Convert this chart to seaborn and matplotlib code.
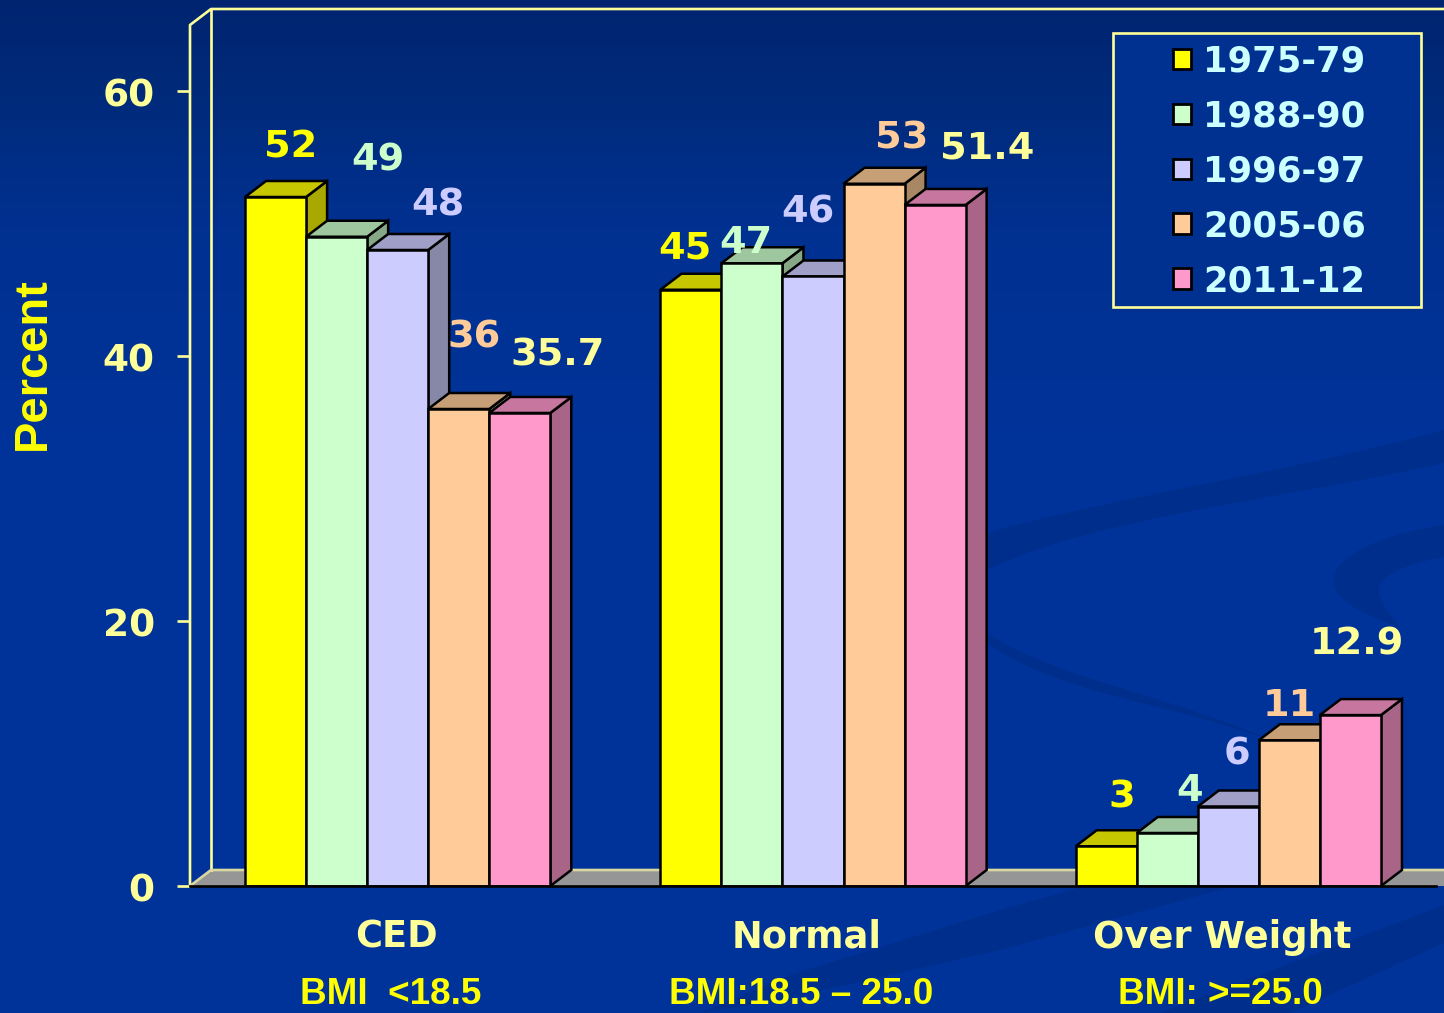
import numpy as np
import pandas as pd
import matplotlib
matplotlib.use("Agg")
import matplotlib.pyplot as plt
import matplotlib.colors as mcolors
from matplotlib.lines import Line2D
from matplotlib.patches import Polygon, Rectangle, PathPatch
from matplotlib.path import Path
from matplotlib.transforms import ScaledTranslation
import seaborn as sns

# Nutritional status of women by survey round
groups = ["CED", "Normal", "Over Weight"]
subtitles = ["BMI  <18.5", "BMI:18.5 – 25.0", "BMI: >=25.0"]
periods = ["1975-79", "1988-90", "1996-97", "2005-06", "2011-12"]
ced_values = [52, 49, 48, 36, 35.7]
normal_values = [45, 47, 46, 53, 51.4]
overweight_values = [3, 4, 6, 11, 12.9]
value_labels = [["52", "49", "48", "36", "35.7"],
                ["45", "47", "46", "53", "51.4"],
                ["3", "4", "6", "11", "12.9"]]
bar_colors = ["#FFFF00", "#CCFFCC", "#CCCCFF", "#FFCC99", "#FF99CC"]
label_colors = ["#FFFF00", "#CCFFCC", "#CCCCFF", "#FFCC99", "#FFFF99"]

W, H = 1444, 1013
PALE = "#FFFF99"
DEPTH_X, DEPTH_Y = 21, 16          # extrusion of the bars, in pixels
LEFT, RIGHT, BOTTOM, TOP = 190, 1436, 886, 25
YMAX = (BOTTOM - TOP) / 13.25      # 13.25 pixels per percentage point

df = pd.DataFrame({
    "group": np.repeat(groups, len(periods)),
    "period": periods * len(groups),
    "percent": ced_values + normal_values + overweight_values,
})

sns.set_theme(style="white")
fig = plt.figure(figsize=(W / 100, H / 100), dpi=100)

# Slide background: vertical blue gradient with faint darker swooshes
bg = fig.add_axes([0, 0, 1, 1], zorder=0)
bg.set_axis_off()
cmap = mcolors.LinearSegmentedColormap.from_list(
    "slide", [(0, "#002470"), (0.08, "#002A78"), (0.22, "#003090"), (0.42, "#003399"), (1, "#003399")])
bg.imshow(np.linspace(0, 1, 256)[:, None], aspect="auto", cmap=cmap, extent=(0, W, H, 0))
bg.set_xlim(0, W)
bg.set_ylim(H, 0)
swoosh_color = "#002E8C"
C4, L2, M = Path.CURVE4, Path.LINETO, Path.MOVETO
swooshes = [
    # long band sweeping up to the right edge
    ([(987, 533), (1100, 500), (1300, 470), (1444, 430), (1444, 463),
      (1300, 497), (1100, 515), (987, 570), (987, 533)],
     [M, C4, C4, C4, L2, C4, C4, C4, Path.CLOSEPOLY]),
    # hook entering from the right edge
    ([(1444, 525), (1340, 540), (1280, 590), (1400, 627), (1380, 600),
      (1350, 575), (1444, 557), (1444, 525)],
     [M, C4, C4, C4, C4, C4, C4, Path.CLOSEPOLY]),
    # thin tapering stroke
    ([(987, 633), (1060, 680), (1170, 695), (1270, 740), (1170, 703),
      (1060, 695), (987, 643), (987, 633)],
     [M, C4, C4, C4, C4, C4, C4, Path.CLOSEPOLY]),
    # two diagonal wedges below the baseline
    ([(1085, 886), (1235, 886), (1000, 950), (780, 1000), (700, 1013), (790, 975), (1000, 910), (1085, 886)],
     [M, L2, L2, L2, L2, L2, L2, Path.CLOSEPOLY]),
    ([(1444, 905), (1160, 1013), (1290, 1013), (1444, 943), (1444, 905)],
     [M, L2, L2, L2, Path.CLOSEPOLY]),
]
for pts, codes in swooshes:
    bg.add_patch(PathPatch(Path(pts, codes), fc=swoosh_color, ec="none"))

ax = fig.add_axes([LEFT / W, 1 - BOTTOM / H, (RIGHT - LEFT) / W, (BOTTOM - TOP) / H], zorder=1)
ax.patch.set_alpha(0)

sns.barplot(data=df, x="group", y="percent", hue="period", hue_order=periods,
            palette=bar_colors, saturation=1, width=0.735, gap=0, errorbar=None,
            edgecolor="black", linewidth=1.8, legend=False, ax=ax)
ax.set_xlim(-0.5, 2.5)
ax.set_ylim(0, YMAX)

px_x = 3 / (RIGHT - LEFT)          # data units per pixel, horizontally
px_y = YMAX / (BOTTOM - TOP)       # data units per pixel, vertically
dx, dy = DEPTH_X * px_x, DEPTH_Y * px_y


def shade(color, k):
    return tuple(c * k for c in mcolors.to_rgb(color))


# Floor and frame of the chart box
floor = Polygon([(-0.5, 0), (-0.5 + dx, dy), (2.5 + 3 * dx, dy), (2.5 + 2 * dx, 0)],
                fc="#969696", ec="none", zorder=1, clip_on=False)
ax.add_patch(floor)
frame_style = dict(color=PALE, lw=1.9, clip_on=False, zorder=1.5, solid_capstyle="projecting")
ax.add_line(Line2D([-0.5, -0.5, -0.5 + dx, 2.5 + 3 * dx], [0, YMAX, YMAX + dy, YMAX + dy], **frame_style))
ax.add_line(Line2D([-0.5 + dx, -0.5 + dx], [dy, YMAX + dy], **frame_style))
ax.add_line(Line2D([-0.5, -0.5 + dx, 2.5 + 3 * dx], [0, dy, dy], color="#D8D8A0", lw=1.9,
                   clip_on=False, zorder=1.5))

# Extrude each front face: later bars overlap the side of earlier ones
bars = [p for p in ax.patches if isinstance(p, Rectangle)][:15]
bars.sort(key=lambda r: r.get_x())
for n, bar in enumerate(bars):
    order = n % 5
    x0, x1, h = bar.get_x(), bar.get_x() + bar.get_width(), bar.get_height()
    color = bar_colors[order]
    z = 2 + 2 * order
    bar.set_zorder(z + 1)
    ax.add_patch(Polygon([(x1, 0), (x1 + dx, dy), (x1 + dx, h + dy), (x1, h)],
                         fc=shade(color, 0.66), ec="black", lw=1.8, zorder=z, joinstyle="miter"))
    ax.add_patch(Polygon([(x0, h), (x0 + dx, h + dy), (x1 + dx, h + dy), (x1, h)],
                         fc=shade(color, 0.78), ec="black", lw=1.8, zorder=z, joinstyle="miter"))

# Value labels sit above each bar, nudged clear of the extrusion (pixels from top centre)
label_offsets = [
    [(15, 49), (41, 76), (40, 44), (15, 72), (38, 57)],
    [(-6, 41), (-6, 20), (-5, 64), (28, 45), (52, 56)],
    [(16, 49), (22, 42), (9, 52), (0, 34), (6, 71)],
]
for g, row in enumerate(value_labels):
    for i, txt in enumerate(row):
        bar = bars[g * 5 + i]
        ax.annotate(txt, (bar.get_x() + bar.get_width() / 2, bar.get_height()),
                    xytext=(label_offsets[g][i][0] * 0.72, label_offsets[g][i][1] * 0.72),
                    textcoords="offset points", ha="center", va="center",
                    fontsize=27.5, fontweight="bold", family="DejaVu Sans",
                    color=label_colors[i], zorder=20, annotation_clip=False)

# Axes: only the value ticks and a black baseline remain
for side in ("top", "right", "left"):
    ax.spines[side].set_visible(False)
ax.spines["bottom"].set_color("black")
ax.spines["bottom"].set_linewidth(1.9)
ax.spines["bottom"].set_zorder(15)
ax.set_yticks([0, 20, 40, 60])
ax.tick_params(axis="y", left=True, length=9.4, width=1.9, color=PALE, pad=16, labelcolor=PALE)
ax.tick_params(axis="x", bottom=False, pad=17.5, labelcolor=PALE)
for lab in ax.get_yticklabels():
    lab.set_fontsize(27)
    lab.set_fontweight("bold")
    lab.set_family("DejaVu Sans")
    lab.set_transform(lab.get_transform() + ScaledTranslation(0, -1.5 / 100, fig.dpi_scale_trans))
ax.set_xticks(range(3))
ax.set_xticklabels(groups, fontsize=26.5, fontweight="bold", family="DejaVu Sans")
for lab, px in zip(ax.get_xticklabels(), [-1, -6, -6]):
    lab.set_transform(lab.get_transform() + ScaledTranslation(px / 100, 0, fig.dpi_scale_trans))
ax.set_xlabel("")
ax.set_ylabel("Percent", fontsize=33.8, fontweight="bold", family="Liberation Sans", color="#FFFF00")
ax.yaxis.set_label_coords(55 / W, 1 - 364 / H, transform=fig.transFigure)

for i, (sub, px) in enumerate(zip(subtitles, [-6.5, -12, -8])):
    ax.annotate(sub, (i, 0), xytext=(px * 0.72, -108.5 * 0.72), textcoords="offset points",
                ha="center", va="center", fontsize=26.6, fontweight="bold",
                family="Liberation Sans", color="#FFFF00", annotation_clip=False)

# Legend box
fig.add_artist(Rectangle((1113 / W, 1 - 307 / H), 308 / W, 274 / H, transform=fig.transFigure,
                         fc="#003090", ec=PALE, lw=1.9, zorder=3))
handles = [Rectangle((0, 0), 1, 1, fc=c, ec="black", lw=2.0) for c in bar_colors]
leg = fig.legend(handles, periods, loc="upper left", bbox_to_anchor=(1139 / W, 1 - 11 / H),
                 frameon=False, handlelength=0.52, handleheight=0.52, handletextpad=0.33,
                 labelspacing=0.59, borderpad=0.45,
                 prop={"family": "DejaVu Sans", "weight": "bold", "size": 25.5})
leg.set_zorder(4)
for t in leg.get_texts():
    t.set_color("#CCFFFF")

fig.savefig("out.png", dpi=100)
